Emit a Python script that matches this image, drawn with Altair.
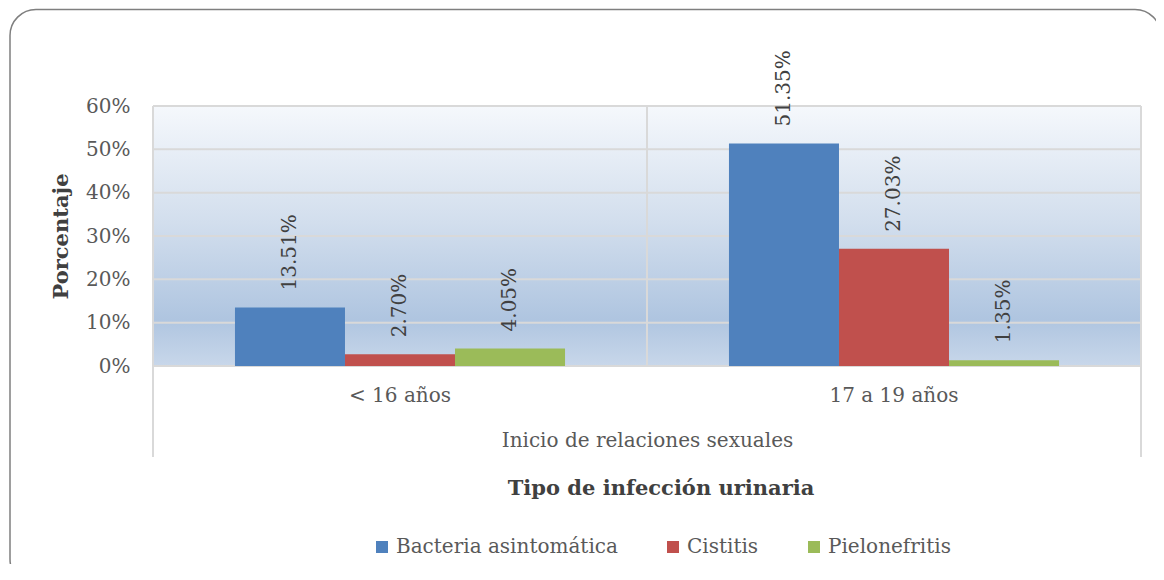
import altair as alt
import pandas as pd

categories = ["< 16 años", "17 a 19 años"]
series = ["Bacteria asintomática", "Cistitis", "Pielonefritis"]
bacteria = [0.1351, 0.5135]
cistitis = [0.0270, 0.2703]
pielonefritis = [0.0405, 0.0135]
colors = ["#4F81BD", "#C0504D", "#9BBB59"]
y_ticks = [0, 0.1, 0.2, 0.3, 0.4, 0.5, 0.6]

rows = []
for i, c in enumerate(categories):
    for s, vals in zip(series, [bacteria, cistitis, pielonefritis]):
        rows.append({"cat": c, "serie": s, "valor": vals[i]})
df = pd.DataFrame(rows)
grid_df = pd.DataFrame({"valor": y_ticks})

W, H = 988, 260
FONT = "DejaVu Serif"
GRID = "#D9D9D9"

x_enc = alt.X(
    "cat:N", sort=categories,
    scale=alt.Scale(paddingInner=0, paddingOuter=0),
    axis=alt.Axis(
        title="Inicio de relaciones sexuales", labelAngle=0,
        grid=False, domain=False, ticks=False,
        tickSize=0, labelPadding=19, labelFontSize=20, labelFont=FONT,
        labelColor="#595959", titleFont=FONT, titleFontSize=20,
        titleFontWeight="normal", titleColor="#595959", titleY=74,
        titleBaseline="middle",
    ),
)
xo_enc = alt.XOffset("serie:N", sort=series,
                     scale=alt.Scale(paddingInner=0, paddingOuter=0.745))
y_axis = alt.Axis(
    values=y_ticks, format=".0%", title="Porcentaje", grid=False,
    domain=False, ticks=False, tickSize=0,
    labelPadding=23, labelFontSize=20, labelFont=FONT, labelColor="#595959",
    titleFont=FONT, titleFontSize=21, titleFontWeight="bold",
    titleColor="#404040", titleX=-92, titleY=130, titleAngle=270,
    titleBaseline="middle", titleAlign="center",
)
y_enc = alt.Y("valor:Q", scale=alt.Scale(domain=[0, 0.6]), axis=y_axis)
color_enc = alt.Color(
    "serie:N", sort=series,
    scale=alt.Scale(domain=series, range=colors),
    legend=alt.Legend(
        title="Tipo de infección urinaria", orient="none", direction="horizontal",
        legendX=219, legendY=372, titleAnchor="middle", titleFont=FONT,
        titleFontSize=21, titleFontWeight="bold", titleColor="#404040",
        titlePadding=38, labelFont=FONT, labelFontSize=20, labelColor="#595959",
        symbolType="square", symbolSize=144, symbolStrokeWidth=0, labelOffset=4,
        columnPadding=45, padding=0, titleLimit=0, labelLimit=0,
    ),
)

one = pd.DataFrame({"k": [0]})

gradient = alt.Gradient(
    gradient="linear", x1=0, y1=0, x2=0, y2=1,
    stops=[
        alt.GradientStop(offset=0, color="#F5F8FC"),
        alt.GradientStop(offset=0.45, color="#D2DEED"),
        alt.GradientStop(offset=0.82, color="#AFC5E0"),
        alt.GradientStop(offset=1, color="#C8D7EA"),
    ],
)
background = alt.Chart(one).mark_rect(fill=gradient).encode(
    x=alt.value(0), x2=alt.value(W), y=alt.value(0), y2=alt.value(H))

hgrid = alt.Chart(grid_df).mark_rule(color=GRID, strokeWidth=2).encode(
    y=y_enc, x=alt.value(0), x2=alt.value(W))

def vrule(xpos, bottom):
    return alt.Chart(one).mark_rule(color=GRID, strokeWidth=2).encode(
        x=alt.value(xpos), y=alt.value(0), y2=alt.value(bottom))

vgrid = [vrule(0, H + 91), vrule(W / 2, H), vrule(W, H + 91)]

bars = alt.Chart(df).mark_bar().encode(x=x_enc, xOffset=xo_enc, y=y_enc, color=color_enc)

labels = alt.Chart(df).mark_text(
    angle=270, align="left", baseline="middle", dx=17, font=FONT, fontSize=20,
    color="#404040",
).encode(x=x_enc, xOffset=xo_enc, y=y_enc, text=alt.Text("valor:Q", format=".2%"))

frame = alt.Chart(one).mark_rect(
    cornerRadius=26, fillOpacity=0, stroke="#7F7F7F", strokeWidth=1.5
).encode(x=alt.value(-143), x2=alt.value(1008), y=alt.value(-96.5), y2=alt.value(479))

chart = alt.layer(background, hgrid, *vgrid, bars, labels, frame).properties(
    width=W, height=H,
    autosize=alt.AutoSizeParams(type="none"),
    padding={"left": 145, "top": 98, "right": 15, "bottom": 198},
    background="white",
).configure_view(stroke="transparent")

chart.save("out.html", embed_options={"renderer": "svg", "actions": False})
